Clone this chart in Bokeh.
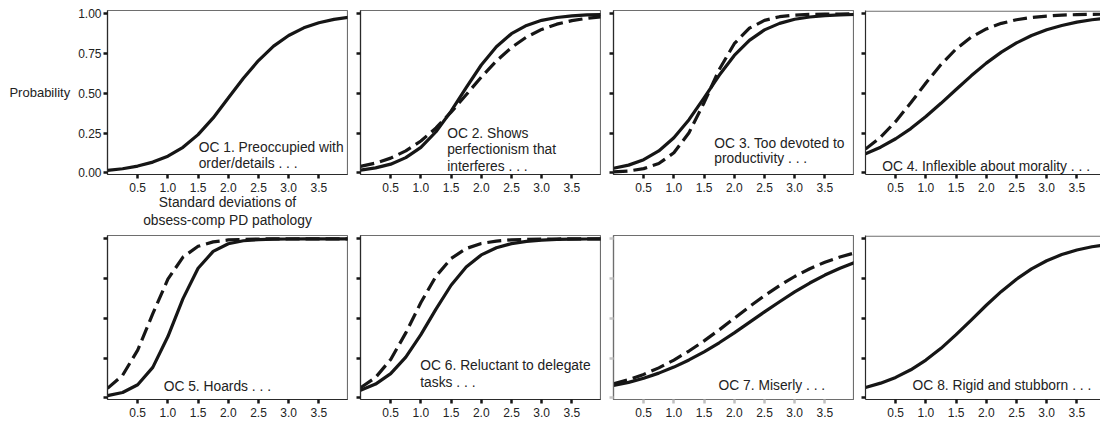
from bokeh.plotting import figure
from bokeh.layouts import row, column
from bokeh.models import (Range1d, FixedTicker, NumeralTickFormatter, Label, Span,
                          ColumnDataSource, CustomJSTickFormatter)
from bokeh.embed import file_html
from bokeh.resources import INLINE

# ---------------- data ----------------
sd = [0.0, 0.25, 0.5, 0.75, 1.0, 1.25, 1.5, 1.75, 2.0, 2.25, 2.5, 2.75, 3.0, 3.25, 3.5, 3.75, 4.0]

oc1_solid = [0.015, 0.025, 0.042, 0.067, 0.104, 0.160, 0.240, 0.345, 0.470, 0.595, 0.706, 0.797, 0.864, 0.912, 0.944, 0.965, 0.978]
oc2_solid = [0.017, 0.031, 0.054, 0.095, 0.160, 0.258, 0.388, 0.536, 0.678, 0.793, 0.875, 0.927, 0.959, 0.977, 0.987, 0.993, 0.996]
oc2_dashed = [0.040, 0.061, 0.092, 0.138, 0.200, 0.282, 0.381, 0.491, 0.602, 0.703, 0.788, 0.854, 0.902, 0.935, 0.957, 0.972, 0.982]
oc3_solid = [0.028, 0.048, 0.082, 0.137, 0.220, 0.334, 0.471, 0.613, 0.738, 0.833, 0.899, 0.940, 0.966, 0.980, 0.989, 0.994, 0.996]
oc3_dashed = [0.005, 0.011, 0.026, 0.058, 0.126, 0.252, 0.441, 0.649, 0.812, 0.910, 0.959, 0.982, 0.992, 0.997, 0.998, 0.999, 1.000]
oc4_solid = [0.119, 0.161, 0.214, 0.278, 0.354, 0.437, 0.524, 0.610, 0.690, 0.759, 0.817, 0.864, 0.900, 0.927, 0.948, 0.963, 0.973]
oc4_dashed = [0.149, 0.224, 0.323, 0.440, 0.565, 0.681, 0.779, 0.853, 0.905, 0.940, 0.963, 0.977, 0.986, 0.992, 0.995, 0.997, 0.998]
oc5_solid = [0.013, 0.033, 0.082, 0.191, 0.385, 0.624, 0.815, 0.921, 0.969, 0.988, 0.995, 0.998, 0.999, 1.0, 1.0, 1.0, 1.0]
oc5_dashed = [0.059, 0.141, 0.300, 0.529, 0.746, 0.885, 0.953, 0.981, 0.993, 0.997, 0.999, 1.0, 1.0, 1.0, 1.0, 1.0, 1.0]
oc6_solid = [0.047, 0.086, 0.152, 0.256, 0.397, 0.558, 0.708, 0.823, 0.899, 0.944, 0.970, 0.984, 0.992, 0.996, 0.998, 0.999, 1.0]
oc6_dashed = [0.063, 0.128, 0.241, 0.408, 0.599, 0.765, 0.876, 0.939, 0.971, 0.986, 0.994, 0.997, 0.999, 0.999, 1.0, 1.0, 1.0]
oc7_solid = [0.077, 0.097, 0.123, 0.155, 0.193, 0.238, 0.289, 0.346, 0.408, 0.474, 0.540, 0.604, 0.666, 0.722, 0.772, 0.815, 0.852]
oc7_dashed = [0.088, 0.114, 0.147, 0.188, 0.237, 0.294, 0.358, 0.427, 0.500, 0.573, 0.642, 0.706, 0.763, 0.812, 0.853, 0.886, 0.912]
oc8_solid = [0.065, 0.092, 0.128, 0.176, 0.237, 0.311, 0.397, 0.489, 0.582, 0.669, 0.746, 0.811, 0.862, 0.901, 0.930, 0.950, 0.965]

x_ticks = [0.5, 1.0, 1.5, 2.0, 2.5, 3.0, 3.5]
y_ticks = [0.0, 0.25, 0.5, 0.75, 1.0]

titles = [
    ["OC 1.  Preoccupied with", "order/details . . ."],
    ["OC 2.  Shows", "perfectionism that", "interferes  . . ."],
    ["OC 3.  Too devoted to", "productivity . . ."],
    ["OC 4.  Inflexible about morality  . . ."],
    ["OC 5.  Hoards . . ."],
    ["OC 6.  Reluctant to delegate", "tasks  . . ."],
    ["OC 7.  Miserly  . . ."],
    ["OC 8.  Rigid and stubborn . . ."],
]
solids = [oc1_solid, oc2_solid, oc3_solid, oc4_solid, oc5_solid, oc6_solid, oc7_solid, oc8_solid]
dasheds = [None, oc2_dashed, oc3_dashed, oc4_dashed, oc5_dashed, oc6_dashed, oc7_dashed, None]

y_label = "Probability"
x_label = "Standard deviations of\nobsess-comp PD pathology"

# ---------------- layout / style ----------------
FONT = "Liberation Sans"
INK = "#161616"
TXT = "#222222"

# (figure width, left border, right border, x end)
cols = [(348, 107, 1, 3.974), (253, 12, 1, 3.974), (253, 12, 1, 3.974), (246, 11, 0, 3.891)]
# (figure height, top border, bottom border)
rows_geo = [(233, 10, 59), (190, 2, 24)]

# label anchors (left x, centre y of each line) in data units
title_pos = [
    (1.51, [0.161, 0.057]),
    (1.435, [0.245, 0.147, 0.042]),
    (1.67, [0.186, 0.088]),
    (0.276, [0.042]),
    (0.93, [0.069]),
    (0.99, [0.204, 0.099]),
    (1.74, [0.080]),
    (0.78, [0.074]),
]


def make_panel(i):
    r, c = divmod(i, 4)
    w, bl, br, xend = cols[c]
    h, bt, bb = rows_geo[r]
    p = figure(width=w, height=h, x_range=Range1d(0, xend), y_range=Range1d(-0.011, 1.021),
               output_backend="svg", toolbar_location=None,
               min_border_left=bl, min_border_right=br, min_border_top=bt, min_border_bottom=bb)
    p.grid.visible = False
    p.background_fill_color = "white"
    p.border_fill_color = "white"
    faint = (i == 6)
    edge = "#6e6e6e"
    if c == 3:
        p.outline_line_color = None
        p.add_layout(Span(location=1.017, dimension="width", line_color=edge, line_width=1.2))
    else:
        p.outline_line_color = edge
        p.outline_line_width = 1.2

    xa = p.xaxis[0]
    xa.ticker = FixedTicker(ticks=x_ticks)
    xa.formatter = NumeralTickFormatter(format="0.0")
    xa.major_tick_in = 0
    xa.major_tick_out = 4
    xa.major_tick_line_width = 2.5
    xa.major_tick_line_color = "#c0c0c0" if faint else INK
    xa.minor_tick_line_color = None
    xa.axis_line_color = edge if faint else "#2a2a2a"
    xa.axis_line_width = 1.2
    xa.major_label_text_font = FONT
    xa.major_label_text_font_size = "12px"
    xa.major_label_text_color = TXT
    xa.major_label_standoff = 4

    ya = p.yaxis[0]
    ya.ticker = FixedTicker(ticks=y_ticks)
    ya.major_tick_in = 0
    ya.major_tick_out = 4
    ya.major_tick_line_width = 2.5
    ya.major_tick_line_color = "#c8c8c8" if faint else INK
    ya.minor_tick_line_color = None
    ya.axis_line_color = edge if faint else "#2a2a2a"
    ya.axis_line_width = 1.2
    if i == 0:
        ya.formatter = NumeralTickFormatter(format="0.00")
        ya.major_label_text_font = FONT
        ya.major_label_text_font_size = "12px"
        ya.major_label_text_color = TXT
        ya.major_label_standoff = 2
        ya.axis_label = y_label
        ya.axis_label_orientation = "horizontal"
        ya.axis_label_text_font = FONT
        ya.axis_label_text_font_size = "13px"
        ya.axis_label_text_font_style = "normal"
        ya.axis_label_text_color = TXT
        ya.axis_label_text_baseline = "bottom"
        ya.axis_label_standoff = 5
        xa.axis_label = x_label
        xa.axis_label_text_font = FONT
        xa.axis_label_text_font_size = "13.8px"
        xa.axis_label_text_font_style = "normal"
        xa.axis_label_text_color = TXT
        xa.axis_label_standoff = 0
    else:
        ya.formatter = CustomJSTickFormatter(code="return ''")
        ya.major_label_standoff = 0

    if dasheds[i] is not None:
        src_d = ColumnDataSource(dict(x=sd, y=dasheds[i]))
        p.line("x", "y", source=src_d, line_color=INK, line_width=3.2, line_dash="14 6")
    src_s = ColumnDataSource(dict(x=sd, y=solids[i]))
    p.line("x", "y", source=src_s, line_color=INK, line_width=3.2, line_join="round")

    tx, tys = title_pos[i]
    for txt, ty in zip(titles[i], tys):
        p.add_layout(Label(x=tx, y=ty, text=txt, text_font=FONT, text_font_size="13.8px",
                           text_color=TXT, text_baseline="middle", text_align="left"))
    return p


panels = [make_panel(i) for i in range(8)]
layout = column(row(*panels[:4]), row(*panels[4:]))

open("out.html", "w").write(file_html(layout, INLINE))
